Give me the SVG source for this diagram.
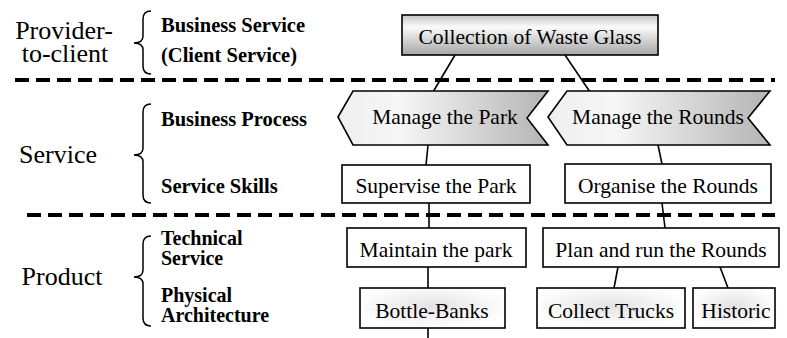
<svg xmlns="http://www.w3.org/2000/svg" width="787" height="338" viewBox="0 0 787 338">
<defs>
<linearGradient id="gTop" x1="0" y1="0" x2="0" y2="1">
<stop offset="0" stop-color="#c4c4c4"/>
<stop offset="0.3" stop-color="#fbfbfb"/>
<stop offset="1" stop-color="#a6a6a6"/>
</linearGradient>
<linearGradient id="gChev" x1="0" y1="0" x2="1" y2="0">
<stop offset="0" stop-color="#efefef"/>
<stop offset="0.3" stop-color="#f6f6f6"/>
<stop offset="1" stop-color="#b4b4b4"/>
</linearGradient>
<radialGradient id="gGlow" cx="0.5" cy="0.45" r="0.55">
<stop offset="0" stop-color="#e2e2e2"/>
<stop offset="0.6" stop-color="#f4f4f4"/>
<stop offset="1" stop-color="#ffffff"/>
</radialGradient>
</defs>
<style>
.box{fill:#fff;stroke:#000;stroke-width:1.6}
.top{fill:url(#gTop);stroke:#000;stroke-width:1.6}
.chev{fill:url(#gChev);stroke:#000;stroke-width:1.6}
.glow{fill:url(#gGlow);stroke:#000;stroke-width:1.6}
.t{font-family:"Liberation Serif","Times New Roman",serif;font-size:21.5px;fill:#000;text-anchor:middle}
.big{font-family:"Liberation Serif","Times New Roman",serif;font-size:26px;fill:#000;text-anchor:middle}
.lab{font-family:"Liberation Serif","Times New Roman",serif;font-size:20.5px;font-weight:bold;fill:#000}
.lab2{font-family:"Liberation Serif","Times New Roman",serif;font-size:20px;font-weight:bold;fill:#000}
.brace{fill:none;stroke:#000;stroke-width:1.5}
.dash{stroke:#000;stroke-width:4;stroke-dasharray:14 7;fill:none}
.conn{stroke:#000;stroke-width:1.6;fill:none}
</style>
<rect width="787" height="338" fill="#fff"/>
<g id="layers">
<line class="dash" x1="15" y1="80" x2="775" y2="80"/>
<line class="dash" x1="27" y1="215" x2="775" y2="215"/>
<text class="big" x="64" y="39">Provider-</text>
<text class="big" x="65" y="62">to-client</text>
<text class="big" x="58" y="163">Service</text>
<text class="big" x="62" y="285">Product</text>
<path class="brace" d="M151,11 Q143,11 143,19 L143,36 Q143,43 134,43 Q143,43 143,50 L143,66 Q143,74 151,74"/>
<path class="brace" d="M151,104 Q143,104 143,112 L143,148 Q143,155 134,155 Q143,155 143,162 L143,195 Q143,203 151,203"/>
<path class="brace" d="M151,236 Q143,236 143,244 L143,270 Q143,277 134,277 Q143,277 143,284 L143,318 Q143,326 151,326"/>
<text class="lab" x="161" y="32">Business Service</text>
<text class="lab" x="161" y="62">(Client Service)</text>
<text class="lab" x="161" y="126">Business Process</text>
<text class="lab" x="161" y="193">Service Skills</text>
<text class="lab2" x="161" y="245">Technical</text>
<text class="lab2" x="161" y="265">Service</text>
<text class="lab2" x="161" y="302">Physical</text>
<text class="lab2" x="161" y="322">Architecture</text>
</g>
<g id="connectors">
<line class="conn" x1="455" y1="55" x2="433" y2="92"/>
<line class="conn" x1="565" y1="55" x2="590" y2="92"/>
<line class="conn" x1="428" y1="145" x2="426" y2="165"/>
<line class="conn" x1="658" y1="145" x2="662" y2="164"/>
<line class="conn" x1="429" y1="203" x2="429" y2="228"/>
<line class="conn" x1="662" y1="203" x2="665" y2="228"/>
<line class="conn" x1="428" y1="267" x2="428" y2="288"/>
<line class="conn" x1="618" y1="267" x2="614" y2="288"/>
<line class="conn" x1="720" y1="267" x2="728" y2="288"/>
<line class="conn" x1="428" y1="328" x2="428" y2="338"/>
</g>
<g id="n-collection">
<rect class="top" x="402" y="15" width="256" height="40"/>
<text class="t" x="530" y="44">Collection of Waste Glass</text>
</g>
<g id="n-manage-park">
<polygon class="chev" points="338,117 353,91 548,91 527,118 548,145 353,145"/>
<text class="t" x="445" y="124">Manage the Park</text>
</g>
<g id="n-manage-rounds">
<polygon class="chev" points="548,117 567,91 770,91 748,118 770,145 567,145"/>
<text class="t" x="658" y="124">Manage the Rounds</text>
</g>
<g id="n-supervise">
<rect class="box" x="342" y="165" width="188" height="38"/>
<text class="t" x="436" y="193">Supervise the Park</text>
</g>
<g id="n-organise">
<rect class="box" x="565" y="164" width="206" height="39"/>
<text class="t" x="668" y="193">Organise the Rounds</text>
</g>
<g id="n-maintain">
<rect class="box" x="347" y="228" width="179" height="39"/>
<text class="t" x="436" y="257">Maintain the park</text>
</g>
<g id="n-plan">
<rect class="box" x="543" y="228" width="236" height="39"/>
<text class="t" x="661" y="257">Plan and run the Rounds</text>
</g>
<g id="n-bottle">
<rect class="glow" x="360" y="288" width="145" height="40"/>
<text class="t" x="432" y="318">Bottle-Banks</text>
</g>
<g id="n-trucks">
<rect class="glow" x="537" y="288" width="148" height="40"/>
<text class="t" x="611" y="318">Collect Trucks</text>
</g>
<g id="n-historic">
<rect class="glow" x="693" y="288" width="82" height="40"/>
<text class="t" x="736" y="318">Historic</text>
</g>
</svg>
